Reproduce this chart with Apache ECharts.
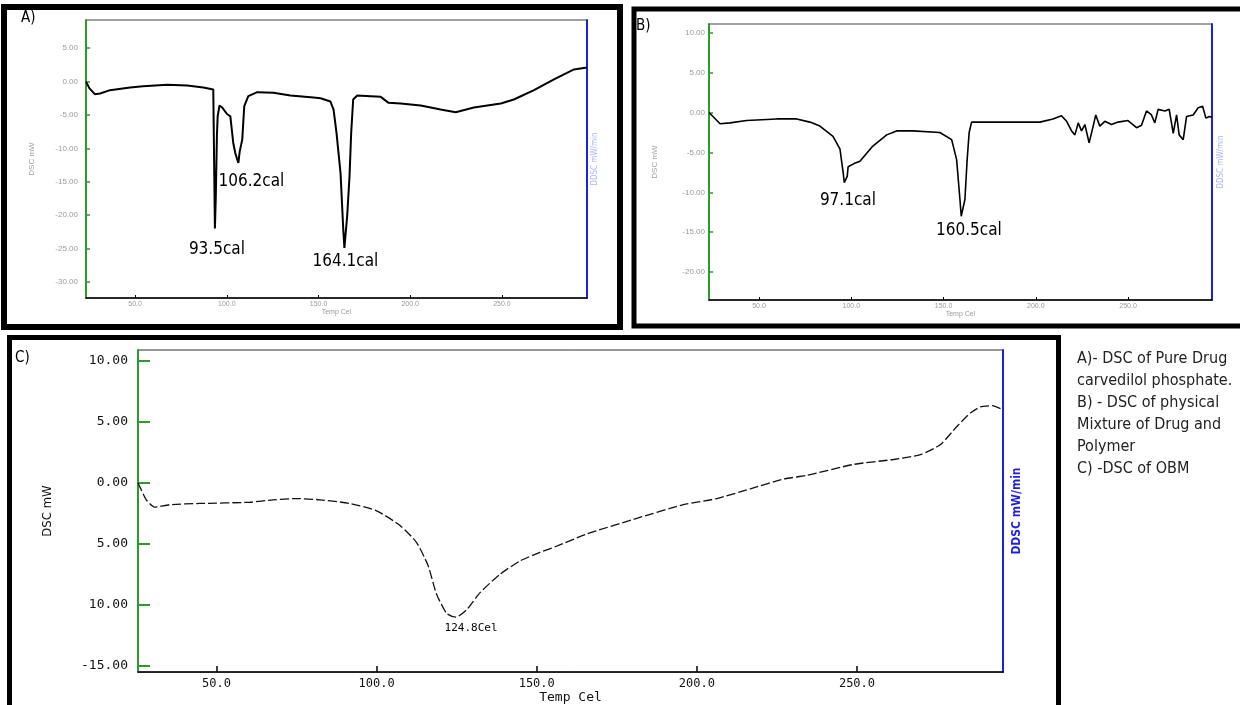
<!DOCTYPE html>
<html>
<head>
<meta charset="utf-8">
<script src="https://cdn.jsdelivr.net/npm/echarts@6/dist/echarts.min.js"></script>
<style>
  html, body { margin: 0; padding: 0; background: #fff; }
  #chart { width: 1240px; height: 705px; }
</style>
</head>
<body>
<div id="chart"></div>
<script>
// A) pure drug carvedilol phosphate
const tempA = [23.2, 25.0, 28.0, 30.9, 36.3, 47.2, 54.3, 67.5, 78.4, 87.2, 92.6, 93.3, 93.5, 94.0, 94.6, 95.0,
  96.0, 97.5, 100.2, 101.9, 103.5, 104.6, 105.5, 106.3, 107.0, 108.4, 109.5, 111.7, 116.6, 125.4, 134.7, 147.3,
  151.1, 156.5, 158.2, 159.8, 162.0, 163.5, 164.1, 165.6, 166.9, 167.8, 168.9, 171.1, 178.4, 183.9, 188.2, 194.8,
  205.7, 216.6, 224.8, 234.7, 249.4, 256.5, 267.5, 278.4, 289.3, 296.4];
const dscA = [0, -1.0, -1.9, -1.8, -1.3, -0.9, -0.7, -0.5, -0.6, -0.9, -1.2, -1.3, -22.0, -17.0, -8.0, -5.2,
  -3.6, -3.9, -4.9, -5.2, -9.2, -10.7, -11.5, -12.2, -10.5, -8.7, -3.7, -2.2, -1.6, -1.7, -2.1, -2.4,
  -2.5, -3.0, -4.2, -7.7, -13.7, -22.2, -24.9, -20.2, -14.2, -7.7, -2.7, -2.1, -2.2, -2.3, -3.2, -3.3,
  -3.6, -4.2, -4.6, -3.9, -3.3, -2.7, -1.3, 0.3, 1.8, 2.1];
const peakTempA = [93.5, 106.3, 164.1];
const peakDscA = [-22.0, -12.2, -24.9];
const peakLabelA = ['93.5cal', '106.2cal', '164.1cal'];

// B) physical mixture of drug and polymer
const tempB = [22.9, 28.9, 34.3, 43.3, 59.6, 70.4, 77.6, 83.0, 90.1, 93.9, 95.0, 95.6, 96.2, 97.1, 97.8, 98.3,
  99.3, 101.5, 104.7, 111.7, 119.2, 124.6, 133.4, 148.0, 154.4, 157.1, 158.9, 159.6, 160.5, 161.6, 162.8, 163.9,
  165.2, 173.3, 191.4, 202.2, 209.3, 213.9, 216.7, 219.4, 221.2, 223.0, 224.8, 226.6, 228.9, 231.1, 232.5, 234.7,
  237.4, 241.0, 244.6, 250.0, 254.6, 257.3, 260.0, 262.7, 264.5, 266.3, 270.0, 272.3, 274.5, 276.3, 277.7, 279.9,
  281.7, 285.3, 288.0, 290.4, 292.2, 294.0, 295.5];
const dscB = [0, -1.4, -1.3, -1.0, -0.8, -0.8, -1.2, -1.7, -3.0, -4.6, -6.5, -7.5, -8.8, -8.9, -8.0, -6.8,
  -6.7, -6.4, -6.1, -4.2, -2.8, -2.3, -2.3, -2.5, -3.4, -5.9, -10.9, -13.0, -13.0, -10.9, -5.9, -2.5,
  -1.2, -1.2, -1.2, -1.2, -0.8, -0.4, -1.1, -2.3, -2.8, -1.3, -2.3, -1.5, -3.8, -1.7, -0.3, -1.7,
  -1.1, -1.5, -1.2, -1.0, -1.9, -1.6, 0.2, -0.3, -1.3, 0.4, 0.2, 0.4, -2.6, -0.3, -2.8, -3.4,
  -0.5, -0.3, 0.6, 0.8, -0.7, -0.5, -0.6];
const peakTempB = [97.1, 160.5];
const peakDscB = [-8.9, -13.0];
const peakLabelB = ['97.1cal', '160.5cal'];

// C) OBM
const tempC = [25.5, 28.1, 30.7, 35.4, 44.8, 60.4, 67.7, 75.0, 82.3, 91.7, 100.0, 107.3, 112.5, 116.1, 118.7,
  121.9, 124.8, 128.1, 132.3, 138.5, 144.8, 151.0, 156.2, 165.6, 180.2, 195.8, 206.2, 216.7, 227.1, 234.4,
  249.0, 261.4, 269.8, 276.0, 281.2, 285.4, 288.5, 292.2, 295.3];
const dscC = [0, -1.4, -2.0, -1.8, -1.7, -1.6, -1.4, -1.3, -1.4, -1.7, -2.3, -3.5, -4.9, -6.8, -9.1,
  -10.7, -11.0, -10.4, -9.0, -7.5, -6.4, -5.7, -5.2, -4.2, -3.0, -1.8, -1.3, -0.5, 0.3, 0.6,
  1.5, 1.9, 2.3, 3.1, 4.6, 5.7, 6.2, 6.3, 6.0];
const peakTempC = [124.8];
const peakDscC = [-11.0];
const peakLabelC = ['124.8Cel'];

// tick values and labels
const ticksX = [50, 100, 150, 200, 250];
const ticksYA = [-30, -25, -20, -15, -10, -5, 0, 5];
const ticksYB = [-20, -15, -10, -5, 0, 5, 10];
const ticksYC = [-15, -10, -5, 0, 5, 10];
const labelsYC = ['-15.00', '10.00', '5.00', '0.00', '5.00', '10.00'];

const notes = [
  'A)- DSC of Pure Drug',
  'carvedilol phosphate.',
  'B) - DSC of physical',
  'Mixture of Drug and',
  'Polymer',
  'C) -DSC of OBM'
];

const narrow = '"Liberation Sans Narrow", "DejaVu Sans Condensed", sans-serif';
const mono = '"DejaVu Sans Mono", "Liberation Mono", monospace';

function zip(xs, ys) {
  return xs.map((x, i) => [x, ys[i]]);
}

function peakMarks(xs, ys, texts, offsets, labelStyle) {
  return {
    symbol: 'circle',
    symbolSize: 1,
    itemStyle: { color: 'rgba(0,0,0,0)' },
    label: Object.assign({ show: true, position: 'inside', formatter: '{b}', color: '#000' }, labelStyle),
    data: xs.map((x, i) => ({
      name: texts[i],
      coord: [x, ys[i]],
      label: { offset: offsets[i] }
    }))
  };
}

function smallX(grid, min, max) {
  return {
    type: 'value', gridIndex: grid, min: min, max: max,
    name: 'Temp Cel', nameLocation: 'middle', nameGap: 11,
    nameTextStyle: { fontSize: 7, color: '#9a9a9a' },
    axisLine: { onZero: false, lineStyle: { color: '#000', width: 1.5 } },
    axisTick: { inside: true, length: 3, lineStyle: { color: '#000' }, customValues: ticksX },
    axisLabel: { fontSize: 7, color: '#9a9a9a', margin: 3, customValues: ticksX, formatter: v => v.toFixed(1) },
    splitLine: { show: false }
  };
}

function smallY(grid, min, max, ticks, margin) {
  return {
    type: 'value', gridIndex: grid, min: min, max: max,
    name: 'DSC mW', nameLocation: 'middle', nameRotate: 90, nameGap: 50,
    nameTextStyle: { fontSize: 8, color: '#a0a0a0' },
    axisLine: { show: true, onZero: false, lineStyle: { color: '#2e9a2e', width: 2 } },
    axisTick: { inside: true, length: 4, lineStyle: { color: '#2e9a2e', width: 1.5 }, customValues: ticks },
    axisLabel: { fontSize: 8, color: '#9a9a9a', margin: margin, customValues: ticks, formatter: v => v.toFixed(2) },
    splitLine: { show: false }
  };
}

function rightY(grid, gap, color, size, weight) {
  return {
    type: 'value', gridIndex: grid, position: 'right', min: 0, max: 1,
    name: 'DDSC mW/min', nameLocation: 'middle', nameRotate: 90, nameGap: gap,
    nameTextStyle: { fontSize: size, color: color, fontFamily: narrow, fontWeight: weight },
    axisLine: { show: true, onZero: false, lineStyle: { color: '#1f1fe0', width: 2 } },
    axisTick: { show: false },
    axisLabel: { show: false },
    splitLine: { show: false }
  };
}

const chart = echarts.init(document.getElementById('chart'));

chart.setOption({
  backgroundColor: '#fff',
  animation: false,
  grid: [
    { left: 86, top: 20, width: 501, height: 278, show: true, borderColor: '#444', borderWidth: 1 },
    { left: 709, top: 24, width: 503, height: 276, show: true, borderColor: '#444', borderWidth: 1 },
    { left: 138, top: 350, width: 865, height: 326, show: true, borderColor: '#333', borderWidth: 1 }
  ],
  xAxis: [
    smallX(0, 23.2, 296.4),
    smallX(1, 22.9, 295.5),
    {
      type: 'value', gridIndex: 2, min: 25.5, max: 295.6,
      name: 'Temp Cel', nameLocation: 'middle', nameGap: 16,
      nameTextStyle: { fontSize: 13, color: '#111', fontFamily: mono },
      axisLine: { onZero: false, lineStyle: { color: '#000', width: 1.5 } },
      axisTick: { inside: true, length: 6, lineStyle: { color: '#000', width: 1.5 }, customValues: ticksX },
      axisLabel: { fontSize: 12, color: '#111', fontFamily: mono, margin: 6, customValues: ticksX, formatter: v => v.toFixed(1) },
      splitLine: { show: false }
    }
  ],
  yAxis: [
    smallY(0, -32.4, 9.2, ticksYA, 8),
    rightY(0, 4, '#aab2ee', 8, 'normal'),
    smallY(1, -23.5, 11.1, ticksYB, 4),
    rightY(1, 5, '#aab2ee', 8, 'normal'),
    {
      type: 'value', gridIndex: 2, min: -15.5, max: 10.86,
      name: 'DSC mW', nameLocation: 'middle', nameRotate: 90, nameGap: 84,
      nameTextStyle: { fontSize: 13, color: '#111', fontFamily: narrow },
      axisLine: { show: true, onZero: false, lineStyle: { color: '#2e9a2e', width: 2 } },
      axisTick: { inside: true, length: 12, lineStyle: { color: '#2e9a2e', width: 2 }, customValues: ticksYC },
      axisLabel: {
        fontSize: 13, color: '#111', fontFamily: mono, margin: 10, customValues: ticksYC,
        formatter: v => labelsYC[ticksYC.indexOf(v)]
      },
      splitLine: { show: false }
    },
    rightY(2, 8, '#1f1fe0', 12, 'bold')
  ],
  series: [
    {
      type: 'line', xAxisIndex: 0, yAxisIndex: 0, data: zip(tempA, dscA),
      symbol: 'none', lineStyle: { color: '#000', width: 2 },
      markPoint: peakMarks(peakTempA, peakDscA, peakLabelA, [[2, 21], [13, 19], [1, 14]],
        { fontSize: 17, fontFamily: narrow })
    },
    {
      type: 'line', xAxisIndex: 1, yAxisIndex: 2, data: zip(tempB, dscB),
      symbol: 'none', lineStyle: { color: '#000', width: 1.6 },
      markPoint: peakMarks(peakTempB, peakDscB, peakLabelB, [[2, 17], [6, 14]],
        { fontSize: 17, fontFamily: narrow })
    },
    {
      type: 'line', xAxisIndex: 2, yAxisIndex: 4, data: zip(tempC, dscC),
      symbol: 'none', smooth: 0.2, lineStyle: { color: '#111', width: 1.3, type: [9, 3] },
      markPoint: peakMarks(peakTempC, peakDscC, peakLabelC, [[15, 11]],
        { fontSize: 11, fontFamily: mono })
    }
  ],
  graphic: [
    // panel frames
    { type: 'rect', shape: { x: 4, y: 7, width: 616, height: 320 }, style: { fill: 'none', stroke: '#000', lineWidth: 6 } },
    { type: 'rect', shape: { x: 634, y: 9, width: 620, height: 317 }, style: { fill: 'none', stroke: '#000', lineWidth: 5 } },
    { type: 'rect', shape: { x: 9.5, y: 337.5, width: 1049, height: 400 }, style: { fill: 'none', stroke: '#000', lineWidth: 5 } },
    // panel letters
    { type: 'text', left: 21, top: 11, style: { text: 'A)', font: '15px ' + narrow, fill: '#000' } },
    { type: 'text', left: 636, top: 19, style: { text: 'B)', font: '15px ' + narrow, fill: '#000' } },
    { type: 'text', left: 15, top: 351, style: { text: 'C)', font: '15px ' + narrow, fill: '#000' } },
    // captions
    {
      type: 'text', left: 1077, top: 348,
      style: { text: notes.join('\n'), font: '16px ' + narrow, fill: '#222', lineHeight: 22 }
    }
  ]
});
</script>
</body>
</html>
